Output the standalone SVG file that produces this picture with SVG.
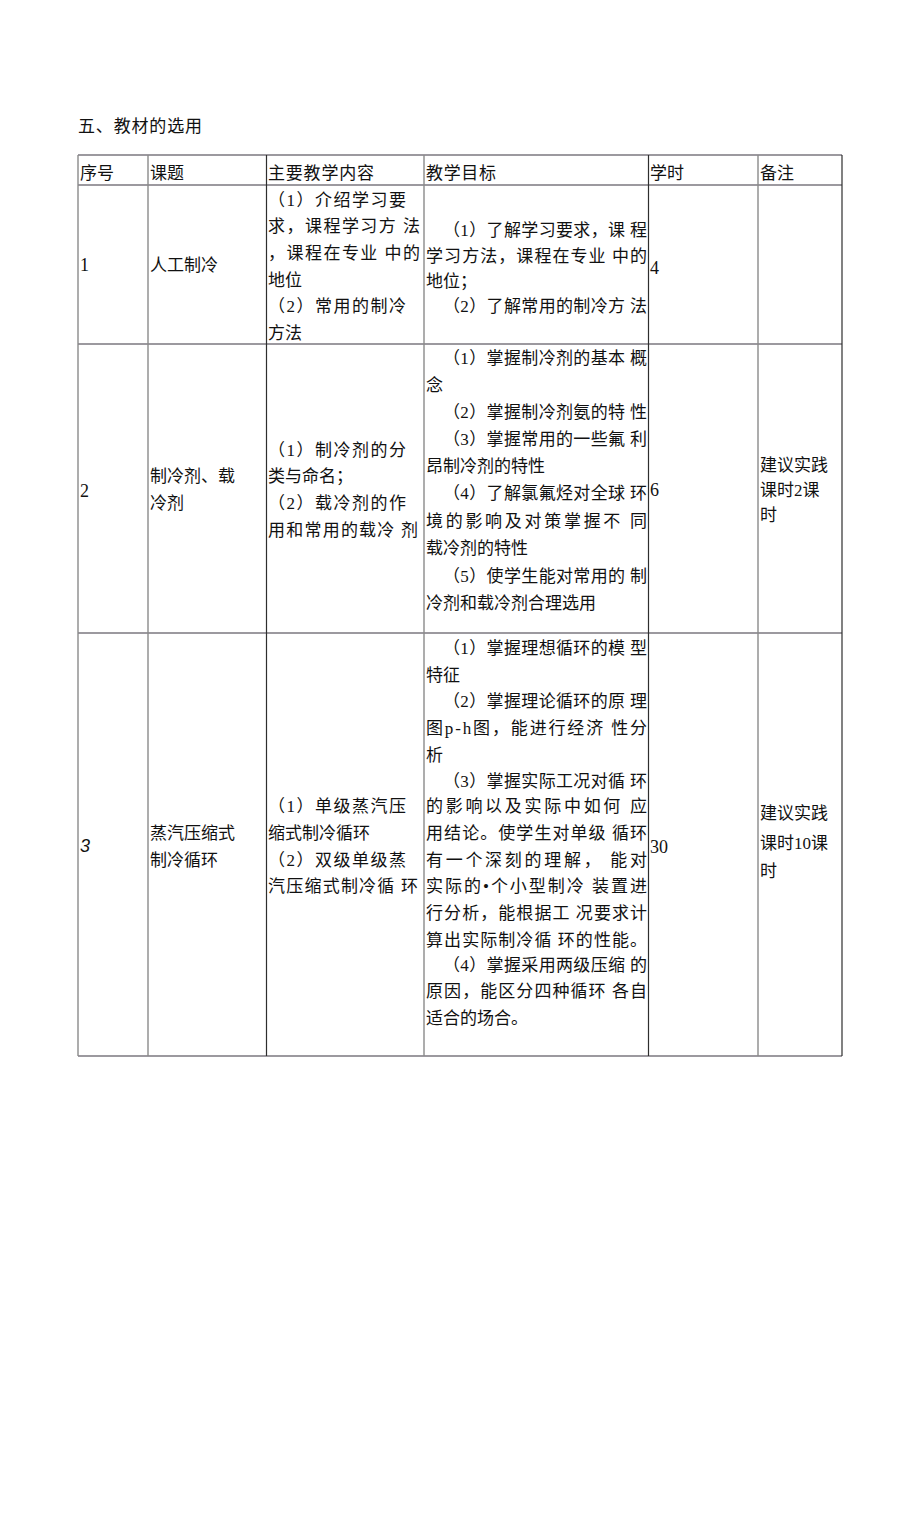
<svg xmlns="http://www.w3.org/2000/svg" width="920" height="1516" viewBox="0 0 920 1516">
<style>
text{font-family:"Liberation Serif","Noto Sans CJK SC",serif;font-size:17px;fill:#111;dominant-baseline:central}
.n{font-size:18px}
.h{stroke:#3b3540;stroke-width:1.2}
.vg{stroke:#8a8a8a;stroke-width:1.4}
.vd{stroke:#2e2e2e;stroke-width:1.2}
.it{font-family:"Liberation Sans",sans-serif;font-style:italic;font-size:18px}
</style>
<rect width="920" height="1516" fill="#fff"/>
<text x="78" y="126" textLength="124" lengthAdjust="spacing">五、教材的选用</text>
<g id="grid">
<line class="h" x1="78" y1="155" x2="842" y2="155"/>
<line class="h" x1="78" y1="185" x2="842" y2="185"/>
<line class="h" x1="78" y1="344" x2="842" y2="344"/>
<line class="h" x1="78" y1="633" x2="842" y2="633"/>
<line class="h" x1="78" y1="1056" x2="842" y2="1056"/>
<line class="vg" x1="78" y1="155" x2="78" y2="1056"/>
<line class="vg" x1="148" y1="155" x2="148" y2="1056"/>
<line class="vd" x1="266.5" y1="155" x2="266.5" y2="1056"/>
<line class="vg" x1="424" y1="155" x2="424" y2="1056"/>
<line class="vd" x1="648.5" y1="155" x2="648.5" y2="1056"/>
<line class="vg" x1="758" y1="155" x2="758" y2="1056"/>
<line class="vd" x1="842" y1="155" x2="842" y2="1056"/>
</g>
<g id="header">
<text x="80" y="173">序号</text>
<text x="150" y="173">课题</text>
<text x="268" y="173" textLength="106" lengthAdjust="spacing">主要教学内容</text>
<text x="426" y="173" textLength="70" lengthAdjust="spacing">教学目标</text>
<text x="650" y="173">学时</text>
<text x="760" y="173">备注</text>
</g>
<g id="row1">
<text class="n" x="80" y="265">1</text>
<text x="150" y="265">人工制冷</text>
<text x="268" y="200" textLength="138" lengthAdjust="spacing">（1）介绍学习要</text>
<text x="268" y="226.7" textLength="152" lengthAdjust="spacing">求，课程学习方 法</text>
<text x="268" y="253.3" textLength="152" lengthAdjust="spacing">，课程在专业 中的</text>
<text x="268" y="280">地位</text>
<text x="268" y="306.7" textLength="138" lengthAdjust="spacing">（2）常用的制冷</text>
<text x="268" y="333.3">方法</text>
<text x="443" y="230" textLength="204" lengthAdjust="spacing">（1）了解学习要求，课 程</text>
<text x="426" y="256.7" textLength="221" lengthAdjust="spacing">学习方法，课程在专业 中的</text>
<text x="426" y="281.7">地位；</text>
<text x="443" y="306.7" textLength="204" lengthAdjust="spacing">（2）了解常用的制冷方 法</text>
<text class="n" x="650" y="268">4</text>
</g>
<g id="row2">
<text class="n" x="80" y="491">2</text>
<text x="150" y="476.7">制冷剂、载</text>
<text x="150" y="503.3">冷剂</text>
<text x="268" y="450" textLength="138" lengthAdjust="spacing">（1）制冷剂的分</text>
<text x="268" y="476.7">类与命名；</text>
<text x="268" y="503.3" textLength="138" lengthAdjust="spacing">（2）载冷剂的作</text>
<text x="268" y="530" textLength="150" lengthAdjust="spacing">用和常用的载冷 剂</text>
<text x="443" y="358" textLength="204" lengthAdjust="spacing">（1）掌握制冷剂的基本 概</text>
<text x="426" y="385">念</text>
<text x="443" y="412" textLength="204" lengthAdjust="spacing">（2）掌握制冷剂氨的特 性</text>
<text x="443" y="439" textLength="204" lengthAdjust="spacing">（3）掌握常用的一些氟 利</text>
<text x="426" y="466">昂制冷剂的特性</text>
<text x="443" y="493" textLength="204" lengthAdjust="spacing">（4）了解氯氟烃对全球 环</text>
<text x="426" y="521" textLength="221" lengthAdjust="spacing">境的影响及对策掌握不 同</text>
<text x="426" y="548">载冷剂的特性</text>
<text x="443" y="576" textLength="204" lengthAdjust="spacing">（5）使学生能对常用的 制</text>
<text x="426" y="603">冷剂和载冷剂合理选用</text>
<text class="n" x="650" y="490">6</text>
<text x="760" y="465">建议实践</text>
<text x="760" y="490">课时2课</text>
<text x="760" y="515">时</text>
</g>
<g id="row3">
<text class="it" x="80" y="846">3</text>
<text x="150" y="833.3">蒸汽压缩式</text>
<text x="150" y="860">制冷循环</text>
<text x="268" y="806.7" textLength="138" lengthAdjust="spacing">（1）单级蒸汽压</text>
<text x="268" y="833.3">缩式制冷循环</text>
<text x="268" y="860" textLength="138" lengthAdjust="spacing">（2）双级单级蒸</text>
<text x="268" y="886.7" textLength="150" lengthAdjust="spacing">汽压缩式制冷循 环</text>
<text x="443" y="648.3" textLength="204" lengthAdjust="spacing">（1）掌握理想循环的模 型</text>
<text x="426" y="675">特征</text>
<text x="443" y="701.7" textLength="204" lengthAdjust="spacing">（2）掌握理论循环的原 理</text>
<text x="426" y="728.3" textLength="221" lengthAdjust="spacing">图p-h图，能进行经济 性分</text>
<text x="426" y="755">析</text>
<text x="443" y="781.7" textLength="204" lengthAdjust="spacing">（3）掌握实际工况对循 环</text>
<text x="426" y="806.7" textLength="221" lengthAdjust="spacing">的影响以及实际中如何 应</text>
<text x="426" y="833.3" textLength="221" lengthAdjust="spacing">用结论。使学生对单级 循环</text>
<text x="426" y="860" textLength="221" lengthAdjust="spacing">有一个深刻的理解， 能对</text>
<text x="426" y="886.7" textLength="221" lengthAdjust="spacing">实际的•个小型制冷 装置进</text>
<text x="426" y="913.3" textLength="221" lengthAdjust="spacing">行分析，能根据工 况要求计</text>
<text x="426" y="940" textLength="221" lengthAdjust="spacing">算出实际制冷循 环的性能。</text>
<text x="443" y="965" textLength="204" lengthAdjust="spacing">（4）掌握采用两级压缩 的</text>
<text x="426" y="991.7" textLength="221" lengthAdjust="spacing">原因，能区分四种循环 各自</text>
<text x="426" y="1018.3">适合的场合。</text>
<text class="n" x="650" y="846.7">30</text>
<text x="760" y="813.3">建议实践</text>
<text x="760" y="843.3">课时10课</text>
<text x="760" y="871.7">时</text>
</g>
</svg>
